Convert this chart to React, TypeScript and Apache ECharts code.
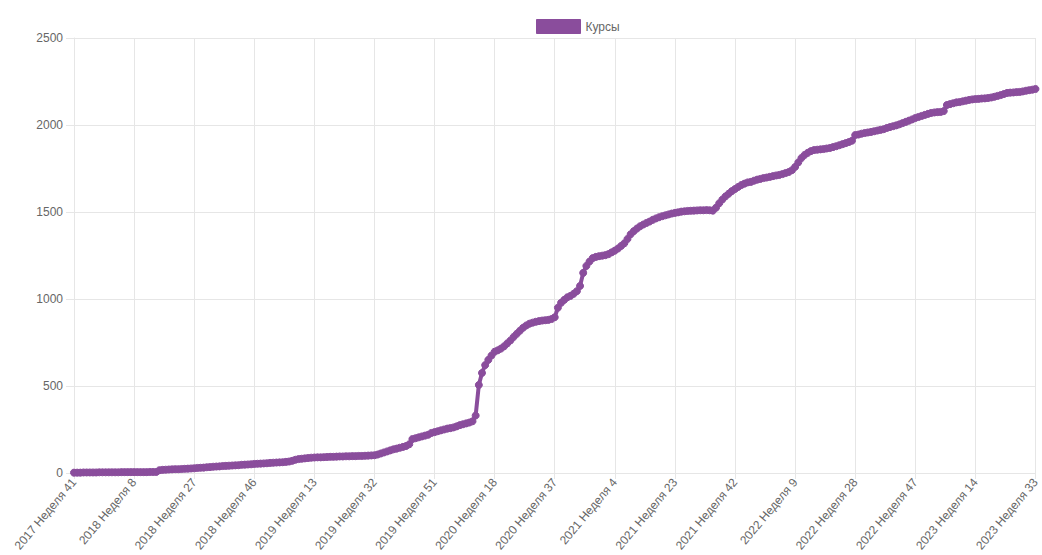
import React, { useEffect, useRef } from "react";
import * as echarts from "echarts";

// Weekly categories: 2017 Неделя 41 … 2023 Неделя 33 (52 weeks per year as in source)
const startYear = 2017;
const startWeek = 41;
const weekCount = 305;
const categories: string[] = [];
{
  let y = startYear;
  let w = startWeek;
  for (let i = 0; i < weekCount; i++) {
    categories.push(`${y} Неделя ${w}`);
    w++;
    if (w > 52) {
      w = 1;
      y++;
    }
  }
}

const seriesName = "Курсы";

// values, one per week
const values2017to2018: number[] = [
  2, 2, 2, 3, 3, 3, 3, 3, 4, 4, 4, 4, 4, 4, 4, 5, 5, 5, 5,
  5, 5, 5, 5, 5, 6, 6, 6, 16, 18, 19, 20, 21, 22, 22, 23, 24, 25, 26,
  27, 29, 30, 31, 33, 34, 36, 37, 38, 40, 41, 42, 43, 44, 45, 47, 48, 49, 50,
];
const values2019: number[] = [
  52, 53, 54, 55, 56, 58, 59, 60, 61, 62, 64, 66, 70, 76, 80, 82, 84, 86, 88,
  89, 90, 90, 91, 92, 93, 93, 94, 95, 95, 96, 96, 97, 97, 98, 98, 99, 100, 101,
  102, 106, 112, 118, 124, 130, 136, 140, 145, 150, 155, 165, 195, 200, 205, 210, 215, 220, 230,
];
const values2020: number[] = [
  235, 240, 245, 250, 255, 258, 262, 268, 275, 280, 285, 290, 297, 330, 506, 575, 620, 650, 675,
  697, 705, 715, 728, 745, 762, 782, 800, 818, 835, 848, 858, 864, 869, 873, 876, 878, 880, 885,
  895, 950, 978, 995, 1010, 1018, 1030, 1045, 1075, 1150, 1190, 1215, 1235, 1242, 1246, 1249, 1252, 1258, 1268,
];
const values2021: number[] = [
  1278, 1290, 1305, 1320, 1345, 1372, 1390, 1405, 1418, 1428, 1437, 1445, 1455, 1463, 1470, 1476, 1481, 1486, 1491,
  1495, 1498, 1502, 1504, 1506, 1507, 1508, 1509, 1510, 1510, 1511, 1510, 1508, 1525, 1550, 1572, 1590, 1605, 1620,
  1632, 1644, 1655, 1663, 1670, 1673, 1680, 1686, 1690, 1695, 1698, 1702, 1706, 1710, 1713, 1718, 1724, 1730, 1740,
];
const values2022: number[] = [
  1759, 1785, 1810, 1828, 1840, 1850, 1856, 1858, 1860, 1862, 1865, 1868, 1873, 1878, 1884, 1890, 1896, 1902, 1910,
  1942, 1945, 1950, 1954, 1957, 1960, 1964, 1968, 1972, 1976, 1983, 1988, 1993, 1998, 2004, 2011, 2018, 2025, 2032,
  2040, 2046, 2052, 2058, 2064, 2069, 2072, 2074, 2075, 2080, 2115, 2120, 2125, 2130, 2132, 2136, 2140, 2144, 2147,
];
const values2023: number[] = [
  2149, 2150, 2152, 2153, 2155, 2158, 2162, 2167, 2172, 2178, 2184, 2186, 2187, 2189, 2190, 2193, 2197, 2200, 2203,
  2207,
];

const courseValues: number[] = [
  ...values2017to2018,
  ...values2019,
  ...values2020,
  ...values2021,
  ...values2022,
  ...values2023,
];

const yMin = 0;
const yMax = 2500;
const yStep = 500;
const labelEvery = 19;

export default function App() {
  const ref = useRef<HTMLDivElement>(null);

  useEffect(() => {
    if (!ref.current) return;
    const chart = echarts.init(ref.current, null, { renderer: "svg" });
    const color = "#8a4d9c";
    const gridColor = "#e6e6e6";
    const textColor = "#666";
    const font = "'Liberation Sans', Arial, Helvetica, sans-serif";
    chart.setOption({
      animation: false,
      backgroundColor: "#ffffff",
      textStyle: { fontFamily: font },
      legend: {
        top: 14,
        left: 531,
        itemWidth: 44,
        itemHeight: 14,
        itemGap: 6,
        icon: "rect",
        data: [
          {
            name: seriesName,
            itemStyle: { color: color, borderColor: color, borderWidth: 1 },
          },
        ],
        textStyle: { color: textColor, fontSize: 12, fontFamily: font },
      },
      grid: { left: 74, right: 2, top: 38, bottom: 82, containLabel: false },
      xAxis: {
        type: "category",
        data: categories,
        boundaryGap: false,
        axisLine: { show: true, lineStyle: { color: gridColor, width: 1 } },
        axisTick: {
          show: true,
          interval: labelEvery - 1,
          length: 6,
          lineStyle: { color: gridColor },
        },
        splitLine: {
          show: true,
          interval: labelEvery - 1,
          lineStyle: { color: gridColor, width: 1 },
        },
        axisLabel: {
          interval: labelEvery - 1,
          rotate: 50,
          color: textColor,
          fontSize: 12,
          fontFamily: font,
          margin: 7,
          showMaxLabel: true,
        },
      },
      yAxis: {
        type: "value",
        min: yMin,
        max: yMax,
        interval: yStep,
        axisLine: { show: true, lineStyle: { color: gridColor, width: 1 } },
        axisTick: { show: true, length: 8, lineStyle: { color: gridColor } },
        splitLine: { show: true, lineStyle: { color: gridColor, width: 1 } },
        axisLabel: {
          color: textColor,
          fontSize: 12,
          fontFamily: font,
          margin: 11,
          formatter: (v: number) => String(v),
        },
      },
      series: [
        {
          name: seriesName,
          type: "line",
          data: courseValues,
          showSymbol: true,
          showAllSymbol: true,
          symbol: "circle",
          symbolSize: 7,
          itemStyle: { color: color, borderColor: color, borderWidth: 1 },
          lineStyle: { color: color, width: 4 },
          z: 3,
        },
      ],
    });
    return () => {
      chart.dispose();
    };
  }, []);

  return (
    <div
      ref={ref}
      style={{
        position: "fixed",
        left: 0,
        top: 0,
        width: "1042px",
        height: "555px",
        background: "#fff",
      }}
    />
  );
}
